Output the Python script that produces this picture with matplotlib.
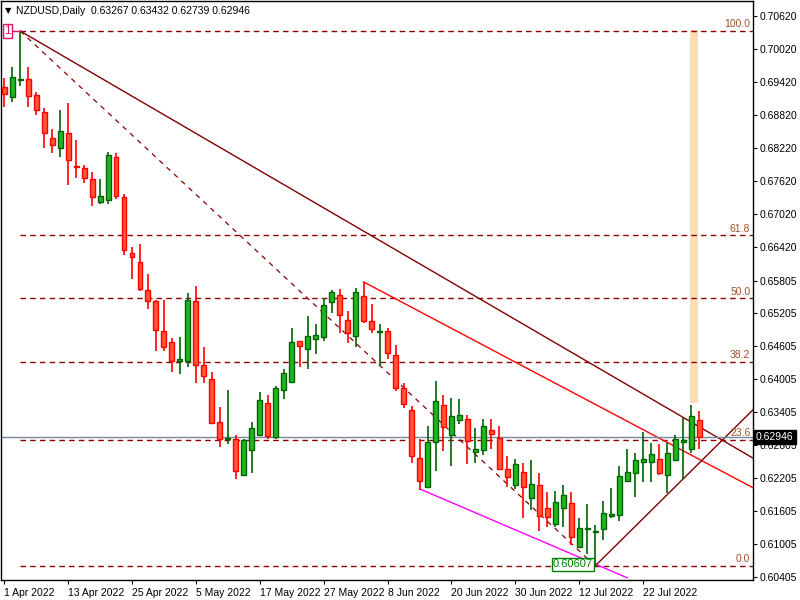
import matplotlib
matplotlib.use("Agg")
import matplotlib.pyplot as plt
import numpy as np
from matplotlib.patches import Rectangle

opens = [0.6933,0.6915,0.6946,0.6948,0.6919,0.6888,0.6840,0.6822,0.6849,0.6789,
         0.6786,0.6766,0.6724,0.6727,0.6806,0.6733,0.6631,0.6614,0.6563,0.6543,
         0.6489,0.6468,0.6434,0.6434,0.6543,0.6427,0.6401,0.6323,0.6292,0.6292,
         0.6226,0.6272,0.6299,0.6357,0.6295,0.6381,0.6396,0.6470,0.6456,0.6474,
         0.6478,0.6541,0.6554,0.6509,0.6479,0.6552,0.6507,0.6487,0.6489,0.6445,
         0.6385,0.6345,0.6257,0.6204,0.6286,0.6354,0.6299,0.6326,0.6328,0.6268,
         0.6272,0.6308,0.6294,0.6237,0.6208,0.6232,0.6184,0.6208,0.6166,0.6137,
         0.6166,0.6175,0.6095,0.6128,0.6122,0.6128,0.6152,0.6153,0.6215,0.6230,
         0.6250,0.6250,0.6255,0.6226,0.6254,0.6286,0.6274,0.63267]
highs = [0.6949,0.6970,0.70352,0.6970,0.6924,0.6895,0.6857,0.6891,0.6904,0.6837,
         0.6791,0.6778,0.6766,0.6815,0.6813,0.6738,0.6642,0.6647,0.6592,0.6545,
         0.6545,0.6476,0.6478,0.6558,0.6571,0.6459,0.6414,0.6350,0.6381,0.6299,
         0.6292,0.6323,0.6377,0.6372,0.6388,0.6419,0.6494,0.6470,0.6516,0.6501,
         0.6549,0.6563,0.6565,0.6525,0.6567,0.6578,0.6538,0.6501,0.6494,0.6463,
         0.6394,0.6352,0.6292,0.6315,0.6397,0.6372,0.6367,0.6365,0.6336,0.6312,
         0.6328,0.6328,0.6315,0.6261,0.6255,0.6248,0.6254,0.6230,0.6195,0.6197,
         0.6208,0.6195,0.6148,0.6173,0.6135,0.6179,0.6203,0.6243,0.6274,0.6266,
         0.6305,0.6284,0.6283,0.6284,0.6299,0.6330,0.6354,0.63432]
lows = [0.6897,0.6906,0.6935,0.6897,0.6882,0.6822,0.6813,0.6806,0.6755,0.6767,
        0.6758,0.6716,0.6720,0.6720,0.6729,0.6627,0.6583,0.6562,0.6529,0.6452,
        0.6452,0.6414,0.6410,0.6423,0.6394,0.6394,0.6319,0.6277,0.6283,0.6219,
        0.6224,0.6230,0.6297,0.6292,0.6292,0.6365,0.6396,0.6423,0.6419,0.6447,
        0.6470,0.6521,0.6485,0.6467,0.6459,0.6503,0.6485,0.6425,0.6438,0.6379,
        0.6348,0.6248,0.6199,0.6204,0.6234,0.6270,0.6243,0.6319,0.6246,0.6248,
        0.6263,0.6274,0.6237,0.6204,0.6201,0.6148,0.6162,0.6124,0.6131,0.6131,
        0.6131,0.6099,0.6095,0.6082,0.60607,0.6108,0.6148,0.6142,0.6213,0.6186,
        0.6213,0.6213,0.6226,0.6193,0.6254,0.6219,0.6266,0.62739]
closes = [0.6920,0.6951,0.6947,0.6917,0.6891,0.6849,0.6828,0.6853,0.6800,0.6788,
          0.6767,0.6733,0.6735,0.6809,0.6735,0.6636,0.6623,0.6565,0.6543,0.6490,
          0.6459,0.6434,0.6438,0.6545,0.6427,0.6407,0.6321,0.6292,0.6294,0.6234,
          0.6290,0.6312,0.6363,0.6297,0.6385,0.6412,0.6468,0.6461,0.6479,0.6481,
          0.6536,0.6560,0.6518,0.6485,0.6560,0.6507,0.6492,0.6489,0.6449,0.6385,
          0.6356,0.6261,0.6215,0.6286,0.6361,0.6314,0.6334,0.6336,0.6288,0.6274,
          0.6315,0.6301,0.6237,0.6223,0.6246,0.6204,0.6210,0.6152,0.6150,0.6177,
          0.6190,0.6113,0.6130,0.6130,0.6124,0.6157,0.6155,0.6224,0.6232,0.6254,
          0.6255,0.6264,0.6230,0.6266,0.6292,0.6290,0.6334,0.62946]

date_labels = ["1 Apr 2022","13 Apr 2022","25 Apr 2022","5 May 2022","17 May 2022",
               "27 May 2022","8 Jun 2022","20 Jun 2022","30 Jun 2022","12 Jul 2022","22 Jul 2022"]
ytick_vals = [0.70620,0.70020,0.69420,0.68820,0.68220,0.67620,0.67020,0.66420,0.65805,
              0.65205,0.64605,0.64005,0.63405,0.62805,0.62205,0.61605,0.61005,0.60405]
ytick_labels = ["0.70620","0.70020","0.69420","0.68820","0.68220","0.67620","0.67020","0.66420",
                "0.65805","0.65205","0.64605","0.64005","0.63405","0.62805","0.62205","0.61605",
                "0.61005","0.60405"]
fib_levels = [0.0, 23.6, 38.2, 50.0, 61.8, 100.0]
fib_high, fib_low = 0.70352, 0.60607
bid = 0.62946

plt.rcParams['font.family'] = ['Liberation Sans', 'DejaVu Sans']
fs = 7.5
fig = plt.figure(figsize=(8, 6), dpi=100)
ax = fig.add_axes([1/800, 20/600, 752/800, 579/600])
xmax = 93.75
ax.set_xlim(-0.4, xmax)
ax.set_ylim(0.60349, 0.70898)

n = len(opens)
x = np.arange(n)
o = np.array(opens); c = np.array(closes); h = np.array(highs); l = np.array(lows)
bull = c >= o
for i in range(n):
    col = '#006400' if bull[i] else '#FF0000'
    ax.vlines(i, l[i], h[i], color=col, lw=1.2, zorder=3)
ax.bar(x[bull], (c - o)[bull], bottom=o[bull], width=0.62, color='#22B522', edgecolor='#006400', lw=1, zorder=4)
ax.bar(x[~bull], (o - c)[~bull], bottom=c[~bull], width=0.62, color='#FF5533', edgecolor='#FF0000', lw=1, zorder=4)

ax.add_patch(Rectangle((85.9, 0.6357), 1.0, 0.7037 - 0.6357, color='#FDDCB8', zorder=1, lw=0))

fcol = '#8B0000'
for lv in fib_levels:
    p = fib_low + (fib_high - fib_low) * lv / 100
    ax.plot([2, xmax], [p, p], color=fcol, ls=(0, (4, 3)), lw=1, zorder=2)
    ax.text(93.4, p + 0.0003, f"{lv:.1f}", color='#A0522D', fontsize=fs, ha='right', va='bottom', zorder=5)
ax.plot([2, 74], [fib_high, fib_low], color=fcol, ls=(0, (4, 4)), lw=0.9, zorder=2)

def ext(x0, y0, x1, y1, xe):
    return [x0, xe], [y0, y0 + (y1 - y0) * (xe - x0) / (x1 - x0)]
xs, ys = ext(2, fib_high, 93.75, 0.6257, 100); ax.plot(xs, ys, color='#800000', lw=1, zorder=2)
xs, ys = ext(45, 0.6578, 93.75, 0.6203, 100); ax.plot(xs, ys, color='#FF0000', lw=1, zorder=2)
ax.plot([52, 78], [0.6201, 0.6039], color='#FF00FF', lw=1, zorder=2)
xs, ys = ext(74, fib_low, 93.75, 0.6345, 100); ax.plot(xs, ys, color='#800000', lw=1, zorder=2)

ax.axhline(bid, color='#778899', lw=1, zorder=2)

ax.plot([0.9, 2], [fib_high, fib_high], color='#E0115F', lw=1, zorder=5)
ax.text(0.45, fib_high, "1", color='#E0115F', fontsize=8.5, ha='center', va='center', zorder=6,
        bbox=dict(boxstyle='square,pad=0.1', fc='white', ec='#E0115F', lw=1))
ax.text(74 - 0.3, fib_low + 0.0003, "0.60607", color='#008000', fontsize=8, ha='right', va='center', zorder=6,
        bbox=dict(boxstyle='square,pad=0.12', fc='white', ec='#008000', lw=1))

for s in ['top', 'bottom', 'left', 'right']:
    ax.spines[s].set_color('black'); ax.spines[s].set_linewidth(1)
ax.yaxis.tick_right()
ax.set_yticks(ytick_vals)
ax.set_yticklabels(ytick_labels, fontsize=fs)
ax.tick_params(axis='y', length=3, pad=2)
ax.set_xticks(np.arange(0, 81, 8))
ax.set_xticklabels(date_labels, fontsize=fs, ha='left')
ax.tick_params(axis='x', length=3, pad=3)

fig.text(756/800, 1 - 436.6/600, "0.62946", color='white', fontsize=fs, va='center', ha='left',
         bbox=dict(boxstyle='square,pad=0.2', fc='black', ec='black'))
fig.text(5/800, 1 - 11/600, "\u25BC", fontsize=6, va='center', family='DejaVu Sans')
fig.text(16/800, 1 - 11/600, "NZDUSD,Daily  0.63267 0.63432 0.62739 0.62946", fontsize=fs, va='center')

fig.savefig("out.png", dpi=100)
